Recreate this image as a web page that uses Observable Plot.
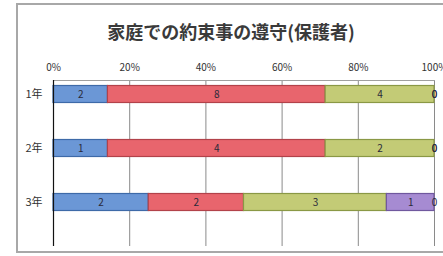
<!DOCTYPE html>
<html><head><meta charset="utf-8">
<script src="https://cdn.jsdelivr.net/npm/d3@7"></script>
<script src="https://cdn.jsdelivr.net/npm/@observablehq/plot@0.6"></script>
<style>
html,body{margin:0;padding:0;background:#fff;}
#wrap{position:relative;width:443px;height:256px;overflow:hidden;font-family:"Noto Sans CJK JP","Noto Sans",sans-serif;}
#border{position:absolute;left:16px;top:3px;width:500px;height:246px;border:2px solid #a8a8a8;box-sizing:content-box;}
#title{position:absolute;left:0;top:0;width:462px;height:50px;text-align:center;line-height:62px;font-size:18px;font-weight:700;color:#3a3a3a;}
#chart{position:absolute;left:0;top:50px;}
</style></head>
<body><div id="wrap"><div id="border"></div><div id="title">家庭での約束事の遵守(保護者)</div><div id="chart"></div></div>
<script>
const grades = ["1年", "2年", "3年"];
const seriesNames = ["系列1", "系列2", "系列3", "系列4", "系列5"];
const s1 = [2, 1, 2];
const s2 = [8, 4, 2];
const s3 = [4, 2, 3];
const s4 = [0, 0, 1];
const s5 = [0, 0, 0];
const fills = ["#6b97d6", "#e8656d", "#c3cb76", "#a68bd2", "#f0a050"];
const strokes = ["#3e6aa8", "#b2424a", "#8a9845", "#70589e", "#b07030"];
const xTicks = [0, 0.2, 0.4, 0.6, 0.8, 1];

const all = [s1, s2, s3, s4, s5];
const data = [];
grades.forEach((g, i) => seriesNames.forEach((s, j) => data.push({grade: g, series: s, value: all[j][i]})));

const stackOpts = {x: "value", y: "grade", offset: "normalize", order: null};
const plot = Plot.plot({
  width: 443, height: 206,
  marginTop: 30, marginBottom: 10, marginLeft: 53, marginRight: 9,
  style: {fontFamily: "'Noto Sans CJK JP','Noto Sans',sans-serif", color: "#333", background: "transparent"},
  x: {domain: [0, 1], axis: "top", ticks: xTicks, tickFormat: d => Math.round(d * 100) + "%", tickSize: 0, tickPadding: 10, label: null, fontSize: 10},
  y: {domain: grades, range: [16.9, 179.6], padding: 0, tickSize: 0, tickPadding: 11, label: null},
  color: {domain: seriesNames, range: fills},
  marks: [
    Plot.ruleX(xTicks.slice(1), {stroke: "#8a8a8a", strokeWidth: 1}),
    Plot.frame({anchor: "top", stroke: "#a0a0a0"}),
    Plot.barX(data, Plot.stackX({...stackOpts, fill: "series", stroke: d => strokes[seriesNames.indexOf(d.series)], strokeWidth: 1.2, insetTop: 18.5, insetBottom: 18.5, filter: d => d.value > 0})),
    Plot.text(data, Plot.stackX({...stackOpts, text: d => String(d.value), fill: "#2a2a3a", fontSize: 10})),
    Plot.ruleX([0], {stroke: "#111", strokeWidth: 1.2})
  ]
});
plot.querySelectorAll("g[aria-label='y-axis tick label'] text, g[aria-label='y-axis'] text").forEach(t => t.setAttribute("font-size", "11"));
document.getElementById("chart").appendChild(plot);
</script></body></html>
